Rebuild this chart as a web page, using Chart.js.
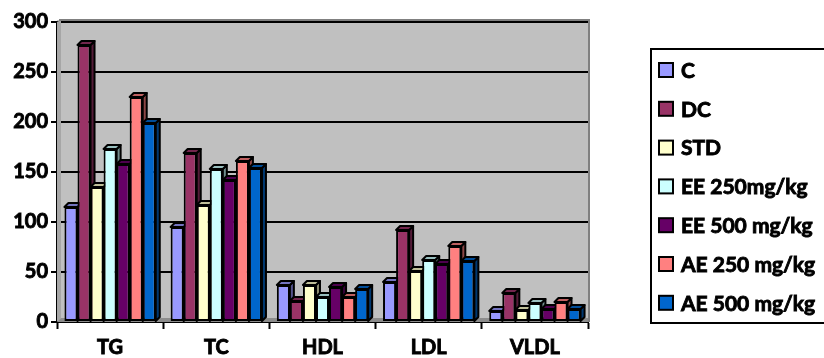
<!DOCTYPE html>
<html>
<head>
<meta charset="utf-8">
<script src="https://cdn.jsdelivr.net/npm/chart.js@4/dist/chart.umd.min.js"></script>
<style>
  html, body { margin: 0; padding: 0; background: #ffffff; }
  #wrap { width: 824px; height: 358px; }
</style>
</head>
<body>
<div id="wrap"><canvas id="c"></canvas></div>
<script>
// Lipid profile by treatment group
const categories = ['TG', 'TC', 'HDL', 'LDL', 'VLDL'];
const groupC     = [115,  95, 37, 40, 11];
const groupDC    = [277, 169, 21, 92, 29];
const groupSTD   = [135, 117, 37, 51, 12];
const groupEE250 = [173, 153, 25, 62, 19];
const groupEE500 = [158, 142, 35, 58, 13];
const groupAE250 = [225, 161, 25, 76, 20];
const groupAE500 = [199, 154, 33, 61, 13];
const seriesNames = ['C', 'DC', 'STD', 'EE 250mg/kg', 'EE 500 mg/kg', 'AE 250 mg/kg', 'AE 500 mg/kg'];
const yTicks = [0, 50, 100, 150, 200, 250, 300];

const seriesValues = [groupC, groupDC, groupSTD, groupEE250, groupEE500, groupAE250, groupAE500];
const seriesColors = ['#9999FF', '#993366', '#FFFFCC', '#CCFFFF', '#660066', '#FF8080', '#0066CC'];
const FONT = 'Lato, "Open Sans", sans-serif';
const DEPTH = 4;

function shade(hex, f) {
  const n = parseInt(hex.slice(1), 16);
  const r = Math.round(((n >> 16) & 255) * f);
  const g = Math.round(((n >> 8) & 255) * f);
  const b = Math.round((n & 255) * f);
  return `rgb(${r},${g},${b})`;
}

// Gray plot wall behind the grid
const wallPlugin = {
  id: 'wall',
  beforeDraw(chart) {
    const { ctx, chartArea: a } = chart;
    ctx.save();
    ctx.fillStyle = '#C0C0C0';
    ctx.fillRect(a.left, a.top - 2, a.right - a.left + 1, a.bottom - a.top + 2);
    ctx.restore();
  },
  beforeDatasetsDraw(chart) {
    const { ctx, chartArea: a } = chart;
    ctx.save();
    // side wall on the left and floor strip
    ctx.fillStyle = '#A6A6A6';
    ctx.beginPath();
    ctx.moveTo(a.left, a.top);
    ctx.lineTo(a.left + DEPTH, a.top - DEPTH + 2);
    ctx.lineTo(a.left + DEPTH, a.bottom - DEPTH);
    ctx.lineTo(a.left, a.bottom);
    ctx.closePath();
    ctx.fill();
    ctx.fillStyle = '#8C8C8C';
    ctx.beginPath();
    ctx.moveTo(a.left, a.bottom);
    ctx.lineTo(a.left + DEPTH, a.bottom - DEPTH);
    ctx.lineTo(a.right, a.bottom - DEPTH);
    ctx.lineTo(a.right, a.bottom);
    ctx.closePath();
    ctx.fill();
    // gray frame on top and right
    ctx.strokeStyle = '#808080';
    ctx.lineWidth = 2;
    ctx.beginPath();
    ctx.moveTo(a.left + 2, a.top - 2);
    ctx.lineTo(a.right + 1, a.top - 2);
    ctx.lineTo(a.right + 1, a.bottom);
    ctx.stroke();

    // depth faces of the bars, drawn left to right
    const faces = [];
    chart.data.datasets.forEach((ds, di) => {
      const meta = chart.getDatasetMeta(di);
      meta.data.forEach(el => faces.push({ el, color: ds.backgroundColor }));
    });
    faces.sort((p, q) => p.el.x - q.el.x);
    ctx.lineWidth = 2;
    ctx.strokeStyle = '#000000';
    ctx.lineJoin = 'round';
    faces.forEach(({ el, color }) => {
      const l = el.x - el.width / 2, r = el.x + el.width / 2, t = el.y, b = el.base;
      ctx.fillStyle = shade(color, 0.55);
      ctx.beginPath();
      ctx.moveTo(r, t);
      ctx.lineTo(r + DEPTH, t - DEPTH);
      ctx.lineTo(r + DEPTH, b - DEPTH);
      ctx.lineTo(r, b);
      ctx.closePath();
      ctx.fill(); ctx.stroke();
      ctx.fillStyle = shade(color, 0.75);
      ctx.beginPath();
      ctx.moveTo(l, t);
      ctx.lineTo(l + DEPTH, t - DEPTH);
      ctx.lineTo(r + DEPTH, t - DEPTH);
      ctx.lineTo(r, t);
      ctx.closePath();
      ctx.fill(); ctx.stroke();
    });
    ctx.restore();
  }
};

// Boxed legend on the right
const boxLegendPlugin = {
  id: 'boxLegend',
  afterDraw(chart) {
    const { ctx, chartArea: a } = chart;
    const x0 = a.right + 63, y0 = 49, h = 274;
    ctx.save();
    ctx.strokeStyle = '#000000';
    ctx.lineWidth = 2;
    ctx.strokeRect(x0, y0, 400, h);
    ctx.font = `bold 21px ${FONT}`;
    ctx.textBaseline = 'middle';
    chart.data.datasets.forEach((ds, i) => {
      const cy = 70 + i * 38.8;
      ctx.fillStyle = ds.backgroundColor;
      ctx.fillRect(x0 + 8, cy - 7, 14, 14);
      ctx.lineWidth = 2;
      ctx.strokeStyle = '#000000';
      ctx.strokeRect(x0 + 8, cy - 7, 14, 14);
      ctx.fillStyle = '#000000';
      ctx.lineWidth = 0.9;
      ctx.strokeText(ds.label, x0 + 30, cy + 1);
      ctx.fillText(ds.label, x0 + 30, cy + 1);
    });
    ctx.restore();
  }
};

const tickFont = { family: FONT, size: 20, weight: 'bold' };

new Chart(document.getElementById('c'), {
  type: 'bar',
  data: {
    labels: categories,
    datasets: seriesNames.map((name, i) => ({
      label: name,
      data: seriesValues[i],
      backgroundColor: seriesColors[i],
      borderColor: '#000000',
      borderWidth: 2,
      borderSkipped: false,
      categoryPercentage: 0.86,
      barPercentage: 1.0
    }))
  },
  options: {
    responsive: true,
    maintainAspectRatio: false,
    animation: false,
    devicePixelRatio: 1,
    layout: { padding: { top: 22, right: 236, left: 0, bottom: 0 } },
    plugins: { legend: { display: false }, tooltip: { enabled: false } },
    scales: {
      x: {
        afterFit(scale) { scale.height = 36; },
        grid: { offset: true, drawOnChartArea: false, tickLength: 7, tickColor: '#000000', tickWidth: 2 },
        border: { display: true, color: '#000000', width: 2 },
        ticks: { color: '#000000', font: tickFont, padding: 7, textStrokeColor: '#000000', textStrokeWidth: 0.9 }
      },
      y: {
        min: 0,
        max: 300,
        afterFit(scale) { scale.width = 57; },
        afterBuildTicks(scale) { scale.ticks = yTicks.map(v => ({ value: v })); },
        grid: {
          color: ctx => (ctx.tick && ctx.tick.value === 0) ? 'rgba(0,0,0,0)' : '#000000',
          lineWidth: 2,
          tickLength: 6,
          tickColor: '#000000',
          tickWidth: 2
        },
        border: { display: true, color: '#000000', width: 2 },
        ticks: { color: '#000000', font: tickFont, padding: 3, textStrokeColor: '#000000', textStrokeWidth: 0.9 }
      }
    }
  },
  plugins: [wallPlugin, boxLegendPlugin]
});
</script>
</body>
</html>
